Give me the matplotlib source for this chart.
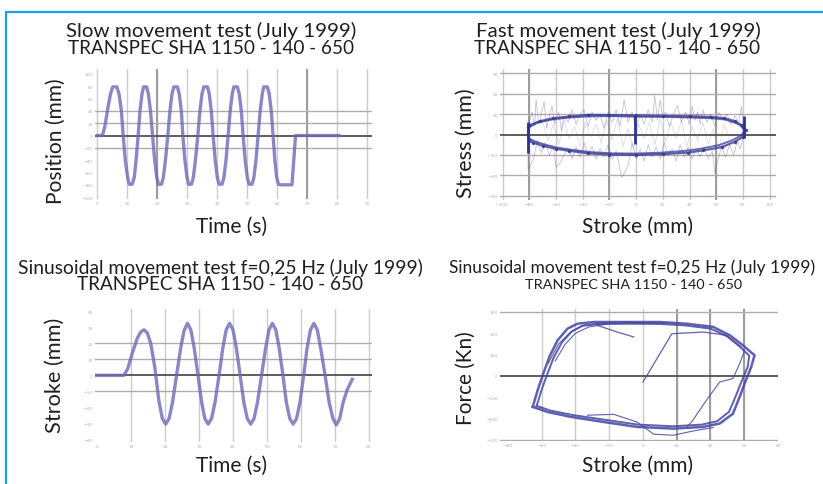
import matplotlib
matplotlib.use("Agg")
import matplotlib.pyplot as plt
from matplotlib import font_manager
from matplotlib.lines import Line2D

# --- slow movement test: time (s) / position (mm)
slow_t = [0, 1.7,
          2.5, 3.5, 4.4, 5.1, 6.5, 7.2, 8.0, 8.6,
          9.3, 10.1, 10.6, 11.6, 12.3, 12.9, 13.6,
          14.2, 14.9, 15.4, 16.4, 17.0, 17.7, 18.4,
          19.1, 19.8, 20.4, 21.4, 22.0, 22.7, 23.5,
          24.2, 24.9, 25.5, 26.7, 27.3, 28.0, 28.5,
          29.2, 29.9, 30.4, 31.4, 32.0, 32.7, 33.5,
          34.2, 34.9, 35.5, 36.7, 37.3, 38.0, 38.6,
          39.3, 40.0, 40.6, 41.6, 42.2, 42.9, 43.6,
          44.3, 45.0, 45.5, 46.7, 47.3, 48.0, 48.6,
          49.3, 50.0, 50.6, 51.6, 52.2, 52.9, 53.6,
          54.3, 55.0, 55.5, 56.7, 57.3, 58.0, 58.6,
          59.2, 59.8, 60.4, 61.1, 64.9, 65.5, 66.1, 80.6]
slow_pos = [0, 0,
            15, 45, 68, 79, 79, 68, 40, 0,
            -40, -68, -79, -79, -68, -40, 0,
            40, 68, 79, 79, 68, 40, 0,
            -40, -68, -79, -79, -68, -40, 0,
            40, 68, 79, 79, 68, 40, 0,
            -40, -68, -79, -79, -68, -40, 0,
            40, 68, 79, 79, 68, 40, 0,
            -40, -68, -79, -79, -68, -40, 0,
            40, 68, 79, 79, 68, 40, 0,
            -40, -68, -79, -79, -68, -40, 0,
            40, 68, 79, 79, 68, 40, 0,
            -40, -68, -79, -80, -80, -40, 0, 0]

# --- fast movement test: stroke (mm) / stress
fast_loop_x = [-80, -72, -62, -50, -36, -20, 0, 20, 40, 56, 66, 74, 79, 82,
               80, 74, 64, 50, 39, 20, 0, -20, -36, -50, -60, -70, -77, -80, -81, -80]
fast_loop_y = [4.5, 6.5, 8, 8.8, 9.6, 9.5, 9.3, 9.1, 8.9, 8.6, 8, 6.5, 4.5, 2.4,
               -1.2, -3.5, -6.2, -7.8, -8.8, -9.6, -10, -9.8, -9.2, -8, -7, -5.5, -4, -3, 0, 4.5]
fast_loop2_x = [-81, -74, -64, -52, -38, -20, 0, 20, 40, 55, 66, 73, 78, 81,
                79, 72, 62, 48, 36, 18, 0, -18, -34, -48, -60, -69, -76, -80, -81]
fast_loop2_y = [3.2, 5.8, 7.2, 8.2, 8.8, 9.0, 8.7, 8.6, 8.3, 8.0, 7.4, 6.0, 4.6, 2.0,
                -0.4, -2.8, -5.2, -7.0, -8.0, -8.9, -9.3, -9.2, -8.6, -7.5, -6.3, -4.8, -3.3, -2.0, 3.2]
fast_top_x = [-80, -78, -76, -75, -73, -71, -69, -67, -65, -63, -61, -58, -56, -54, -51, -48,
              -45, -42, -39, -36, -33, -30, -27, -24, -21, -18, -15, -12, -9, -6, -3, 0,
              3, 6, 9, 12, 14, 16, 18, 20, 22, 25, 28, 31, 34, 37, 40, 42, 44, 46, 48, 50,
              53, 56, 59, 62, 65, 68, 71, 74, 77, 79, 80]
fast_top_y = [6, 11, 4, 17, 5, 10, 16, 3, 9, 14, 5, 11, 2, 9, 6, 12,
              5, 10, 12, 4, 11, 7, 10, 3, 11, 6, 12, 4, 17, 6, 11, 2,
              10, 5, 12, 6, 19, 7, 17, 8, 11, 4, 10, 14, 6, 11, 5, 14, 7, 11, 5, 12,
              6, 10, 4, 11, 7, 10, 5, 9, 6, 14, 3]
fast_bot_x = [80, 78, 76, 73, 70, 67, 64, 61, 59, 57, 54, 51, 48, 45, 42, 39, 36, 33, 30, 27,
              24, 21, 18, 15, 12, 9, 6, 3, 0, -3, -6, -9, -11, -13, -15, -18, -21, -24, -27,
              -30, -33, -36, -39, -42, -45, -48, -51, -54, -57, -60, -62, -65, -68, -71, -74,
              -77, -79, -81, -81]
fast_bot_y = [-2, -7, -3, -10, -5, -11, -6, -13, -19, -8, -12, -6, -11, -7, -12, -6, -11, -5, -13, -7,
              -10, -4, -12, -6, -11, -5, -13, -7, -12, -4, -15, -19, -21, -14, -8, -12, -5, -11, -7,
              -12, -6, -10, -4, -11, -6, -12, -7, -10, -14, -16, -6, -10, -4, -9, -3,
              -12, -15, -17, -2]
fast_mid_x = [-70, -66, -62, -58, -54, -50, -46, -42, -38, -34, -30, -26, -22, -18, -14, -10, -6, -2,
              2, 6, 10, 14, 18, 22, 26, 30, 34, 38, 42, 46, 50, 54, 58, 62, 66, 70]
fast_mid_y = [6, -3, 5, -5, 7, -2, 4, -6, 6, -1, 5, -4, 7, -3, 8, -6, 3, -7,
              5, -2, 6, -5, 8, -4, 6, -2, 7, -6, 4, -3, 6, -5, 3, -7, 5, -2]
fast_bars_x = [-81, -1, 81]
fast_bars_lo = [-9, -4.8, -1.6]
fast_bars_hi = [6, 9.7, 8.9]

# --- sinusoidal test: time (s) / stroke (mm)
sine_t = [-0.5, 7.9,
          9.0, 10.4, 11.8, 12.8, 13.8, 14.8, 15.8, 17.0,
          18.2, 19.2, 20.2, 21.2, 22.2, 23.4,
          24.6, 25.6, 26.6, 27.6, 28.6, 29.7,
          30.8, 31.7, 32.7, 33.7, 34.7, 35.9,
          37.0, 38.0, 39.0, 40.0, 41.0, 42.1,
          43.2, 44.2, 45.2, 46.2, 47.2, 48.4,
          49.6, 50.6, 51.6, 52.6, 53.6, 54.7,
          55.7, 56.7, 57.7, 58.7, 59.7, 60.8,
          61.8, 62.8, 63.8, 64.8, 65.8, 67.1,
          68.3, 69.4, 70.4, 71.4, 72.4, 73.6, 75.1]
sine_stroke = [0, 0,
               4, 14, 23, 27, 28.5, 26.5, 20, 5,
               -16, -27, -30.5, -27, -17, 0,
               17, 28, 32.5, 28.5, 17, 0,
               -17, -27, -30.5, -27, -17, 0,
               17, 28.5, 32.5, 28.5, 17, 0,
               -17, -27, -30.5, -27, -17, 0,
               17, 28.5, 32.5, 28.5, 17, 0,
               -17, -27, -30.5, -27, -17, 0,
               17, 28.5, 32.5, 28.5, 17, 0,
               -17, -27, -31, -27, -17, -9, -2.5]

# --- sinusoidal test: stroke (mm) / force (kN)
hyst_x = [-65.3, -62.4, -59.4, -55.5, -50.6, -44.7, -38.8, -29, -9.4, 10.2, 25.9, 41.6, 51.4,
          59.2, 66.1, 64.1, 60.2, 57.3, 53.3, 45.5, 35.7, 18, -3.5, -23.1, -42.7, -56.5, -65.3]
hyst_y = [-145, -67, 3, 89, 167, 222, 245, 253, 253, 253, 245, 230, 191,
          144, 97, 42, -36, -98, -177, -223, -239, -247, -239, -216, -192, -169, -145]
hyst2_x = [-63, -60, -57, -53, -48, -42, -36, -27, -9, 10, 25, 40, 50,
           57, 63, 62, 58, 55, 51, 44, 35, 18, -3, -22, -41, -55, -63]
hyst2_y = [-140, -64, 2, 84, 158, 210, 235, 243, 245, 244, 237, 222, 185,
           140, 95, 42, -34, -94, -168, -212, -228, -236, -228, -206, -184, -162, -140]
hyst3_x = [-56, -50, -43, -35, -25, -5, 15]
hyst3_y = [60, 150, 205, 238, 248, 250, 248]
hyst4_x = [-52, -46, -40, -32, -22]
hyst4_y = [70, 150, 200, 230, 242]
start_x = [0, 2.4, 17.1, 35.7, 49.4, 58.2]
start_y = [-28, 3, 198, 206, 191, 136]
stray_x = [-27, -15.3, -5.5]
stray_y = [237, 206, 183]
inner_x = [60.2, 57.3, 53.3, 45.5, 37.6, 28.8, 25.9]
inner_y = [120, 58, -12, -28, -114, -216, -239]
dip_x = [-32.9, -17.3, -3.5, 6.3, 18, 29.8, 41.6]
dip_y = [-184, -180, -216, -273, -278, -258, -242]

W, H = 823, 485
fig = plt.figure(figsize=(W / 100, H / 100), dpi=100)

names = {f.name for f in font_manager.fontManager.ttflist}
FONT = "Lato" if "Lato" in names else "DejaVu Sans"
INK = "#1e1e1e"

# frame of the page
fig.add_artist(Line2D([6 / W, 6 / W, 1], [0, 1 - 12.5 / H, 1 - 12.5 / H],
                      transform=fig.transFigure, color="#1c9fe0", lw=1.6))


def px_axes(l, t, r, b):
    return fig.add_axes([l / W, 1 - b / H, (r - l) / W, (b - t) / H])


def style(ax, xlim, ylim, xticks, yticks, vgrid, hgrid, dark_v=(), dark_h=()):
    ax.set_xlim(xlim)
    ax.set_ylim(ylim)
    for s in ax.spines.values():
        s.set_visible(False)
    ax.set_xticks(xticks)
    ax.set_yticks(yticks)
    ax.tick_params(length=0, labelsize=3.2, labelcolor="#b0b0b0", pad=1.5)
    for v in vgrid:
        ax.axvline(v, color="#cfcaca", lw=1.0, zorder=0)
    for v in dark_v:
        ax.axvline(v, color="#9e9a9a", lw=1.4, zorder=0)
    for h in hgrid:
        ax.axhline(h, color="#b3aaaa", lw=1.0, zorder=0)
    for h in dark_h:
        ax.axhline(h, color="#505050", lw=1.3, zorder=0)


def text(x, y, s, size, **kw):
    return fig.text(x / W, 1 - y / H, s, fontsize=size, family=FONT, color=INK,
                    ha="center", va="center", **kw)


# panel 1
ax1 = px_axes(95, 70, 372, 200)
style(ax1, (-0.8, 91.6), (-103, 108), range(0, 100, 10), range(-100, 101, 20),
      range(0, 100, 10), [40, 20, -20], dark_v=[20, 70], dark_h=[0])
ax1.plot(slow_t, slow_pos, color="#6c6ab6", lw=2.4, alpha=0.8)

# panel 2
ax2 = px_axes(500, 70, 776, 201)
style(ax2, (-102, 104.8), (-32, 32), range(-100, 101, 20), range(-30, 31, 10),
      range(-100, 101, 20), [30, 20, 10, -10, -20, -30], dark_v=[-80, -20, 60], dark_h=[0])
ax2.plot(fast_mid_x, fast_mid_y, color="#5a5aa8", lw=0.5, alpha=0.25)
ax2.plot(fast_top_x, fast_top_y, color="#4a4aa0", lw=0.5, alpha=0.4)
ax2.plot(fast_bot_x, fast_bot_y, color="#4a4aa0", lw=0.5, alpha=0.4)
ax2.plot(fast_loop2_x, fast_loop2_y, color="#3a3a96", lw=1.4, alpha=0.75)
ax2.plot(fast_loop_x, fast_loop_y, color="#3a3a96", lw=1.6, alpha=0.8,
         marker=".", ms=3)
ax2.vlines(fast_bars_x, fast_bars_lo, fast_bars_hi, color="#32328e", lw=2.0)

# panel 3
ax3 = px_axes(95, 310, 372, 443)
style(ax3, (-0.6, 80.9), (-41.7, 41.5), range(0, 81, 10), range(-40, 41, 10),
      range(10, 81, 10), [20, 10, -10], dark_h=[0])
ax3.plot(sine_t, sine_stroke, color="#6c6ab6", lw=2.4, alpha=0.8)

# panel 4
ax4 = px_axes(500, 310, 778, 442)
style(ax4, (-84.7, 78.8), (-305, 314), range(-80, 81, 20), range(-300, 301, 100),
      range(-60, 61, 20), [300, -300], dark_v=[20, 40, 60], dark_h=[0])
for xs, ys, lw in [(hyst_x, hyst_y, 1.8), (hyst2_x, hyst2_y, 1.4), (hyst3_x, hyst3_y, 0.8),
                   (hyst4_x, hyst4_y, 0.8), (start_x, start_y, 0.9), (stray_x, stray_y, 0.9),
                   (inner_x, inner_y, 0.8), (dip_x, dip_y, 0.8)]:
    ax4.plot(xs, ys, color="#4444a2", lw=lw, alpha=0.85)


# titles and axis labels, each sized to the width it has in the scan
def fit(t, width):
    r = fig.canvas.get_renderer()
    t.set_fontsize(t.get_fontsize() * width / t.get_window_extent(r).width)


fit(text(211, 31, "Slow movement test (July 1999)", 13), 288)
fit(text(211, 49, "TRANSPEC SHA 1150 - 140 - 650", 13), 285)
fit(text(618, 31, "Fast movement test (July 1999)", 13), 283)
fit(text(617, 49, "TRANSPEC SHA 1150 - 140 - 650", 13), 285)
fit(text(220, 268, "Sinusoidal movement test f=0,25 Hz (July 1999)", 13), 404)
fit(text(220, 285, "TRANSPEC SHA 1150 - 140 - 650", 13), 284)
fit(text(632, 268, "Sinusoidal movement test f=0,25 Hz (July 1999)", 12), 366)
fit(text(634, 285, "TRANSPEC SHA 1150 - 140 - 650", 12), 216)

for x, y, s, w in [(232, 227, "Time (s)", 71), (638, 227, "Stroke (mm)", 110),
                   (232, 466, "Time (s)", 71), (638, 466, "Stroke (mm)", 110)]:
    fit(text(x, y, s, 13), w)
for x, y, s, h in [(56, 141, "Position (mm)", 125), (466, 143, "Stress (mm)", 109),
                   (55, 375, "Stroke (mm)", 115), (466, 378, "Force (Kn)", 93)]:
    t = text(x, y, s, 13, rotation=90)
    r = fig.canvas.get_renderer()
    t.set_fontsize(13 * h / t.get_window_extent(r).height)

fig.savefig("out.png", dpi=100)
